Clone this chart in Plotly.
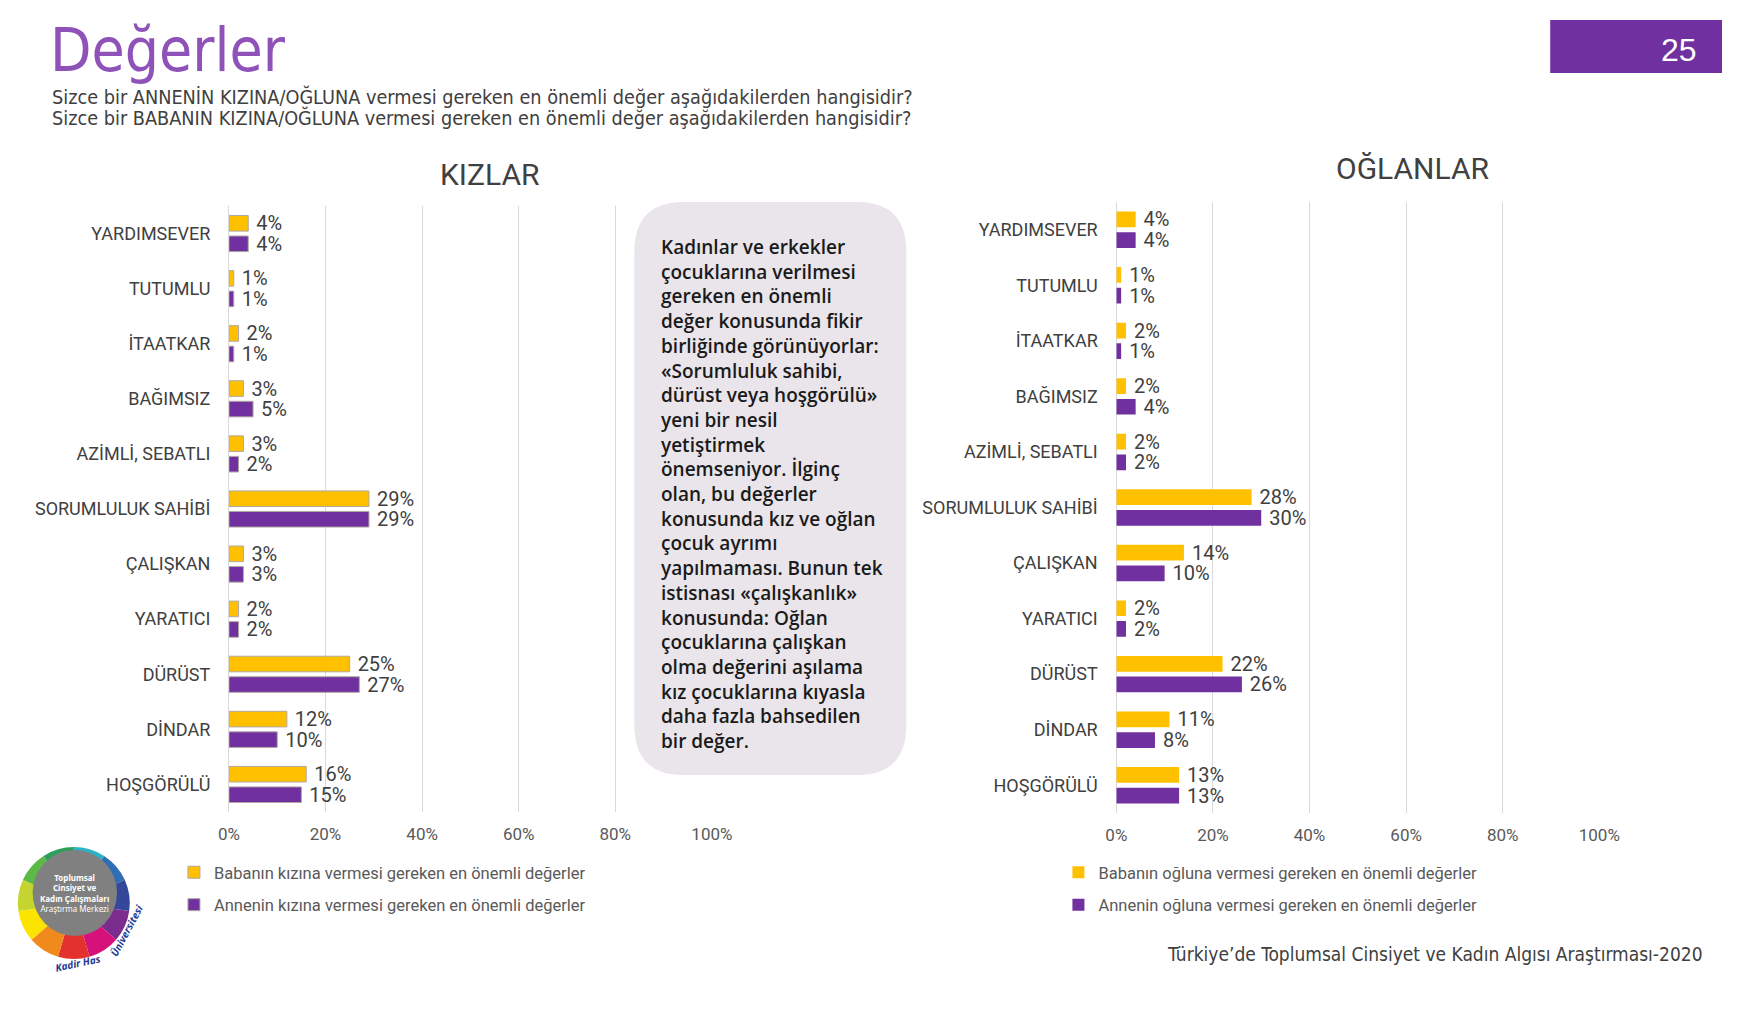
import plotly.graph_objects as go

W, H = 1743, 1009

categories = ["YARDIMSEVER", "TUTUMLU", "İTAATKAR", "BAĞIMSIZ", "AZİMLİ, SEBATLI",
              "SORUMLULUK SAHİBİ", "ÇALIŞKAN", "YARATICI", "DÜRÜST", "DİNDAR", "HOŞGÖRÜLÜ"]
kiz_baba = [4, 1, 2, 3, 3, 29, 3, 2, 25, 12, 16]
kiz_anne = [4, 1, 1, 5, 2, 29, 3, 2, 27, 10, 15]
ogul_baba = [4, 1, 2, 2, 2, 28, 14, 2, 22, 11, 13]
ogul_anne = [4, 1, 1, 4, 2, 30, 10, 2, 26, 8, 13]
x_ticks = [0, 20, 40, 60, 80, 100]
x_ticklabels = ["0%", "20%", "40%", "60%", "80%", "100%"]
legend_names_kiz = ["Babanın kızına vermesi gereken en önemli değerler",
                    "Annenin kızına vermesi gereken en önemli değerler"]
legend_names_ogul = ["Babanın oğluna vermesi gereken en önemli değerler",
                     "Annenin oğluna vermesi gereken en önemli değerler"]
logo_colors = ["#2AB3C6", "#2F6DB5", "#35479A", "#7B2D8E", "#D6127A", "#E3312D",
               "#F08A1D", "#FCE300", "#C5D52F", "#5DB947", "#2E9E5B"]
logo_values = [1] * len(logo_colors)

YELLOW = "#FFC000"
PURPLE = "#7030A0"
DARK = "#404040"
GRAY = "#595959"
CHART_FONT = "Roboto"
TEXT_FONT = "DejaVu Sans Condensed, Noto Sans, sans-serif"


def X(px):
    return px / W


def Y(py):
    return 1 - py / H


fig = go.Figure()

label_font = dict(family=CHART_FONT, size=20, color=DARK)

for vals, color, name, leg, gi, xa, ya, lw in [
    (kiz_baba, YELLOW, legend_names_kiz[0], "legend", "g1", "x", "y", 1),
    (kiz_anne, PURPLE, legend_names_kiz[1], "legend", "g2", "x", "y", 1),
    (ogul_baba, YELLOW, legend_names_ogul[0], "legend2", "g3", "x2", "y2", 0),
    (ogul_anne, PURPLE, legend_names_ogul[1], "legend2", "g4", "x2", "y2", 0),
]:
    fig.add_trace(go.Bar(
        x=vals, y=categories, orientation="h", name=name,
        marker=dict(color=color, line=dict(color="#B0A8A0", width=lw)),
        texttemplate=" %{x}%", textposition="outside", textfont=label_font,
        constraintext="none", cliponaxis=False,
        legend=leg, legendgroup=gi, xaxis=xa, yaxis=ya, hoverinfo="skip",
    ))

# logo ring
fig.add_trace(go.Pie(
    values=logo_values, marker=dict(colors=logo_colors, line=dict(width=0)),
    hole=0.55, sort=False, direction="clockwise", textinfo="none",
    showlegend=False, hoverinfo="skip",
    domain=dict(x=[X(7), X(121)], y=[Y(960), Y(846)]),
))

xaxis_common = dict(
    range=[0, 100], tickvals=x_ticks, ticktext=x_ticklabels,
    showgrid=True, gridcolor="#D9D9D9", gridwidth=1,
    zeroline=True, zerolinecolor="#D9D9D9", zerolinewidth=1,
    showline=False, ticks="outside", ticklen=7, tickcolor="rgba(0,0,0,0)",
    tickfont=dict(family=CHART_FONT, size=17, color=GRAY), fixedrange=True,
)
yaxis_common = dict(
    categoryorder="array", categoryarray=categories, autorange="reversed",
    showgrid=False, zeroline=False, showline=False,
    ticks="outside", ticklen=14, tickcolor="rgba(0,0,0,0)",
    tickfont=dict(family=CHART_FONT, size=18, color=DARK), fixedrange=True,
)

fig.update_layout(
    width=W, height=H,
    margin=dict(l=0, r=0, t=0, b=0, pad=0),
    paper_bgcolor="white", plot_bgcolor="white",
    barmode="group", bargap=0.255, bargroupgap=0.24,
    xaxis=dict(domain=[X(222), X(714)], anchor="y", **xaxis_common),
    yaxis=dict(domain=[Y(812), Y(206)], anchor="x", **yaxis_common),
    xaxis2=dict(domain=[X(1126), X(1618)], anchor="y2", **xaxis_common),
    yaxis2=dict(domain=[Y(813), Y(202)], anchor="x2", **yaxis_common),
    legend=dict(x=X(166), y=Y(855), xanchor="left", yanchor="top",
                font=dict(family=CHART_FONT, size=16.5, color=GRAY),
                tracegroupgap=8, bgcolor="rgba(0,0,0,0)"),
    legend2=dict(x=X(1067), y=Y(855), xanchor="left", yanchor="top",
                 font=dict(family=CHART_FONT, size=16.5, color=GRAY),
                 tracegroupgap=8, bgcolor="rgba(0,0,0,0)"),
    showlegend=True,
)

# rounded text box
bx0, bx1, by0, by1, r = 635, 912, 202, 775, 50
path = (f"M {X(bx0 + r)} {Y(by0)} L {X(bx1 - r)} {Y(by0)} "
        f"Q {X(bx1)} {Y(by0)} {X(bx1)} {Y(by0 + r)} "
        f"L {X(bx1)} {Y(by1 - r)} Q {X(bx1)} {Y(by1)} {X(bx1 - r)} {Y(by1)} "
        f"L {X(bx0 + r)} {Y(by1)} Q {X(bx0)} {Y(by1)} {X(bx0)} {Y(by1 - r)} "
        f"L {X(bx0)} {Y(by0 + r)} Q {X(bx0)} {Y(by0)} {X(bx0 + r)} {Y(by0)} Z")
fig.add_shape(type="path", path=path, xref="paper", yref="paper",
              fillcolor="#E9E5EB", line=dict(width=0), layer="above")

# page number box
fig.add_shape(type="rect", xref="paper", yref="paper",
              x0=X(1568), x1=1, y0=Y(73), y1=Y(20),
              fillcolor=PURPLE, line=dict(width=0))

# logo centre
fig.add_shape(type="circle", xref="paper", yref="paper",
              x0=X(22), x1=X(108), y0=Y(936), y1=Y(850),
              fillcolor="#808080", line=dict(width=0), layer="above")

box_text = ("Kadınlar ve erkekler<br>çocuklarına verilmesi<br>gereken en önemli<br>"
            "değer konusunda fikir<br>birliğinde görünüyorlar:<br>«Sorumluluk sahibi,<br>"
            "dürüst veya hoşgörülü»<br>yeni bir nesil<br>yetiştirmek<br>"
            "önemseniyor. İlginç<br>olan, bu değerler<br>konusunda kız ve oğlan<br>"
            "çocuk ayrımı<br>yapılmaması. Bunun tek<br>istisnası «çalışkanlık»<br>"
            "konusunda: Oğlan<br>çocuklarına çalışkan<br>olma değerini aşılama<br>"
            "kız çocuklarına kıyasla<br>daha fazla bahsedilen<br>bir değer.")

annotations = [
    dict(text="Değerler", x=X(38), y=Y(50), xanchor="left", yanchor="middle",
         font=dict(family=TEXT_FONT, size=60, color="#8F52B8")),
    dict(text="Sizce bir ANNENİN KIZINA/OĞLUNA vermesi gereken en önemli değer aşağıdakilerden hangisidir?",
         x=X(40), y=Y(97), xanchor="left", yanchor="middle",
         font=dict(family=TEXT_FONT, size=19.7, color=DARK)),
    dict(text="Sizce bir BABANIN KIZINA/OĞLUNA vermesi gereken en önemli değer aşağıdakilerden hangisidir?",
         x=X(40), y=Y(118), xanchor="left", yanchor="middle",
         font=dict(family=TEXT_FONT, size=19.7, color=DARK)),
    dict(text="25", x=X(1699), y=Y(50), xanchor="center", yanchor="middle",
         font=dict(family="Liberation Sans", size=32, color="white")),
    dict(text="KIZLAR", x=X(487), y=Y(175), xanchor="center", yanchor="middle",
         font=dict(family=CHART_FONT, size=30, color=DARK)),
    dict(text="OĞLANLAR", x=X(1428), y=Y(169), xanchor="center", yanchor="middle",
         font=dict(family=CHART_FONT, size=30, color=DARK)),
    dict(text=box_text, x=X(660), y=Y(232), xanchor="left", yanchor="top", align="left",
         font=dict(family="Open Sans, Noto Sans, sans-serif", size=19, color="#1A1A1A",
                   weight=600)),
    dict(text="Türkiye’de Toplumsal Cinsiyet ve Kadın Algısı Araştırması-2020",
         x=X(1726), y=Y(954), xanchor="right", yanchor="middle",
         font=dict(family=TEXT_FONT, size=19, color=DARK)),
    dict(text="<b>Toplumsal<br>Cinsiyet ve<br>Kadın Çalışmaları</b><br>Araştırma Merkezi",
         x=X(65), y=Y(893), xanchor="center", yanchor="middle",
         font=dict(family="Noto Sans", size=8, color="white")),
    dict(text="<b><i>Kadir Has</i></b>", x=X(68), y=Y(963),
         xanchor="center", yanchor="middle", textangle=-12,
         font=dict(family="Noto Sans", size=10, color="#1F3A93")),
    dict(text="<b><i>Üniversitesi</i></b>", x=X(118), y=Y(930),
         xanchor="center", yanchor="middle", textangle=-62,
         font=dict(family="Noto Sans", size=10, color="#1F3A93")),
]
for a in annotations:
    a.setdefault("xref", "paper")
    a.setdefault("yref", "paper")
    a.setdefault("showarrow", False)
fig.update_layout(annotations=annotations)

post = "document.body.style.margin='0';document.body.style.overflow='hidden';"
fig.write_html("out.html", config={"displayModeBar": False}, post_script=post)
